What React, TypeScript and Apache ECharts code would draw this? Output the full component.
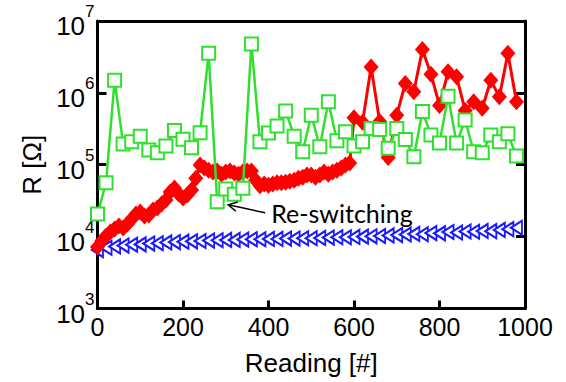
import React, { useEffect, useRef } from "react";
import * as echarts from "echarts";

const FONT = "'Liberation Sans', Arial, Helvetica, sans-serif";

// readings (x values)
const greenReadings = [0, 20, 40, 60, 80, 100, 120, 140, 160, 180, 200, 220, 240, 260, 280, 300, 320, 340, 360, 380, 400, 420, 440, 460, 480, 500, 520, 540, 560, 580, 600, 620, 640, 660, 680, 700, 720, 740, 760, 780, 800, 820, 840, 860, 880, 900, 920, 940, 960, 980];
const greenValues = [2.06e4, 5.6e4, 1.5e6, 1.94e5, 2.09e5, 2.5e5, 1.6e5, 1.47e5, 1.82e5, 3.0e5, 2.27e5, 1.72e5, 2.79e5, 3.55e6, 3.05e4, 4.6e4, 3.9e4, 4.7e4, 4.8e6, 2.09e5, 2.76e5, 3.46e5, 5.6e5, 2.5e5, 1.52e5, 4.9e5, 1.78e5, 7.5e5, 2.16e5, 2.88e5, 1.82e5, 2.09e5, 3.2e5, 3.1e5, 1.7e5, 3.2e5, 2.25e5, 1.29e5, 5.5e5, 2.6e5, 2.0e5, 9.0e5, 2.0e5, 4.2e5, 1.52e5, 1.47e5, 2.6e5, 2.09e5, 2.7e5, 1.32e5];

const redReadings = [0, 10, 20, 30, 40, 50, 60, 70, 80, 90, 100, 110, 120, 130, 140, 150, 160, 170, 180, 190, 200, 210, 220, 230, 240, 250, 260, 270, 280, 290, 300, 310, 320, 330, 340, 350, 360, 370, 380, 390, 400, 410, 420, 430, 440, 450, 460, 470, 480, 490, 500, 510, 520, 530, 540, 550, 560, 570, 580, 590, 600, 620, 640, 660, 680, 700, 720, 740, 760, 780, 800, 820, 840, 860, 880, 900, 920, 940, 960, 980];
const redValues = [7.2e3, 8.7e3, 1.02e4, 1.16e4, 1.28e4, 1.4e4, 1.32e4, 1.5e4, 1.76e4, 2.06e4, 2.2e4, 1.94e4, 2.0e4, 2.34e4, 2.5e4, 2.84e4, 3.23e4, 4.17e4, 4.74e4, 3.91e4, 3.44e4, 3.79e4, 4.45e4, 6.5e4, 9.9e4, 9.0e4, 8.4e4, 7.9e4, 8.2e4, 7.4e4, 7.9e4, 8.2e4, 7.7e4, 7.4e4, 7.9e4, 8.2e4, 8.2e4, 6.1e4, 5.1e4, 5.4e4, 5.2e4, 5.4e4, 5.6e4, 5.6e4, 5.7e4, 5.9e4, 6.1e4, 6.5e4, 6.7e4, 7.2e4, 7.2e4, 6.7e4, 7.2e4, 7.9e4, 7.4e4, 7.9e4, 8.4e4, 9.0e4, 9.9e4, 1.06e5, 4.5e5, 3.9e5, 2.3e6, 4.0e5, 1.26e5, 4.9e5, 1.35e6, 1.04e6, 4.0e6, 1.82e6, 6.7e5, 1.96e6, 1.67e6, 5.7e5, 7.5e5, 6.1e5, 1.5e6, 8.8e5, 3.55e6, 7.5e5];

const blueReadings = [0, 20, 40, 60, 80, 100, 120, 140, 160, 180, 200, 220, 240, 260, 280, 300, 320, 340, 360, 380, 400, 420, 440, 460, 480, 500, 520, 540, 560, 580, 600, 620, 640, 660, 680, 700, 720, 740, 760, 780, 800, 820, 840, 860, 880, 900, 920, 940, 960, 980];
const blueValues = [6.5e3, 7.0e3, 7.3e3, 7.5e3, 7.7e3, 7.8e3, 8.0e3, 8.1e3, 8.3e3, 8.4e3, 8.5e3, 8.6e3, 8.7e3, 8.8e3, 8.9e3, 9.0e3, 9.0e3, 9.1e3, 9.2e3, 9.2e3, 9.3e3, 9.3e3, 9.4e3, 9.4e3, 9.5e3, 9.5e3, 9.6e3, 9.7e3, 9.8e3, 9.8e3, 9.9e3, 1.0e4, 1.01e4, 1.02e4, 1.04e4, 1.05e4, 1.07e4, 1.09e4, 1.08e4, 1.12e4, 1.11e4, 1.16e4, 1.14e4, 1.18e4, 1.17e4, 1.2e4, 1.19e4, 1.24e4, 1.27e4, 1.33e4];

const xTicks = [0, 200, 400, 600, 800, 1000];
const yTicks = [1e3, 1e4, 1e5, 1e6, 1e7];

const annotationText = "Re-switching";
const annotationTarget = [280, 3.05e4];

const pairs = (xs: number[], ys: number[]) => xs.map((x, i) => [x, ys[i]]);

export default function App() {
  const ref = useRef<HTMLDivElement>(null);
  useEffect(() => {
    if (!ref.current) return;
    const chart = echarts.init(ref.current, undefined, { renderer: "svg" });
    const frameLine = { show: true, onZero: false, lineStyle: { color: "#000", width: 3 } };
    const option: any = {
      animation: false,
      backgroundColor: "#fff",
      grid: { left: 97.5, right: 41, top: 21, bottom: 73.5 },
      xAxis: [
        {
          type: "value",
          min: xTicks[0],
          max: xTicks[xTicks.length - 1],
          interval: 200,
          position: "bottom",
          axisLine: frameLine,
          axisTick: { show: true, inside: true, length: 8, lineStyle: { color: "#000", width: 3 } },
          axisLabel: { fontSize: 25, color: "#000", fontFamily: FONT, margin: 6, formatter: (v: number) => String(v) },
          splitLine: { show: false },
          name: "Reading [#]",
          nameLocation: "middle",
          nameGap: 41,
          nameTextStyle: { fontSize: 26, color: "#000", fontFamily: FONT },
        },
        {
          type: "value",
          min: xTicks[0],
          max: xTicks[xTicks.length - 1],
          interval: 200,
          position: "top",
          axisLine: frameLine,
          axisTick: { show: false },
          axisLabel: { show: false },
          splitLine: { show: false },
        },
      ],
      yAxis: [
        {
          type: "log",
          logBase: 10,
          min: yTicks[0],
          max: yTicks[yTicks.length - 1],
          position: "left",
          axisLine: frameLine,
          axisTick: { show: true, inside: true, length: 9, lineStyle: { color: "#000", width: 3 } },
          minorTick: { show: false },
          splitLine: { show: false },
          axisLabel: {
            margin: 3,
            formatter: (v: number) => `{b|10}{s|${Math.round(Math.log10(v))}}`,
            rich: {
              b: { fontSize: 26, fontFamily: FONT, color: "#000", lineHeight: 36, verticalAlign: "bottom" },
              s: { fontSize: 17, fontFamily: FONT, color: "#000", lineHeight: 36, verticalAlign: "top" },
            },
          },
          name: "R [Ω]",
          nameLocation: "middle",
          nameGap: 52,
          nameRotate: 90,
          nameTextStyle: { fontSize: 26, color: "#000", fontFamily: FONT },
        },
        {
          type: "log",
          logBase: 10,
          min: yTicks[0],
          max: yTicks[yTicks.length - 1],
          position: "right",
          axisLine: frameLine,
          axisTick: { show: true, inside: true, length: 9, lineStyle: { color: "#000", width: 3 } },
          minorTick: { show: false },
          splitLine: { show: false },
          axisLabel: { show: false },
        },
      ],
      series: [
        {
          type: "line",
          data: pairs(blueReadings, blueValues),
          symbol: "triangle",
          symbolSize: [14, 11],
          symbolRotate: 90,
          lineStyle: { color: "#1a1aff", width: 1.5 },
          itemStyle: { color: "#fff", borderColor: "#1a1aff", borderWidth: 2 },
          z: 2,
        },
        {
          type: "line",
          data: pairs(redReadings, redValues),
          symbol: "diamond",
          symbolSize: [15, 17],
          lineStyle: { color: "#ff0000", width: 3 },
          itemStyle: { color: "#ff0000", borderWidth: 0 },
          z: 3,
        },
        {
          type: "line",
          data: pairs(greenReadings, greenValues),
          symbol: "rect",
          symbolSize: 13,
          lineStyle: { color: "#2fe02f", width: 2.5 },
          itemStyle: { color: "#fff", borderColor: "#2fe02f", borderWidth: 2 },
          z: 4,
        },
      ],
    };
    chart.setOption(option);

    const p = chart.convertToPixel({ xAxisIndex: 0, yAxisIndex: 0 }, annotationTarget) as number[];
    const tipX = p[0] + 11;
    const tipY = p[1] + 3;
    const tailX = tipX + 37;
    const tailY = tipY + 8;
    const dx = tipX - tailX;
    const dy = tipY - tailY;
    const len = Math.hypot(dx, dy);
    const ux = dx / len;
    const uy = dy / len;
    const head = 10;
    const ang = (28 * Math.PI) / 180;
    const rot = (a: number) => [ux * Math.cos(a) - uy * Math.sin(a), ux * Math.sin(a) + uy * Math.cos(a)];
    const h1 = rot(ang);
    const h2 = rot(-ang);
    chart.setOption({
      graphic: [
        {
          type: "line",
          shape: { x1: tailX, y1: tailY, x2: tipX, y2: tipY },
          style: { stroke: "#000", lineWidth: 1.5 },
          z: 100,
        },
        {
          type: "polyline",
          shape: {
            points: [
              [tipX - h1[0] * head, tipY - h1[1] * head],
              [tipX, tipY],
              [tipX - h2[0] * head, tipY - h2[1] * head],
            ],
          },
          style: { stroke: "#000", lineWidth: 1.5, fill: null },
          z: 100,
        },
        {
          type: "text",
          x: tailX + 6,
          y: tailY,
          style: {
            text: annotationText,
            font: "25px Lato, 'Open Sans', sans-serif",
            fill: "#000",
            textVerticalAlign: "middle",
            verticalAlign: "middle",
          },
          z: 100,
        },
      ],
    });
    return () => chart.dispose();
  }, []);
  return <div ref={ref} style={{ width: 566, height: 382, position: "absolute", left: 0, top: 0 }} />;
}
